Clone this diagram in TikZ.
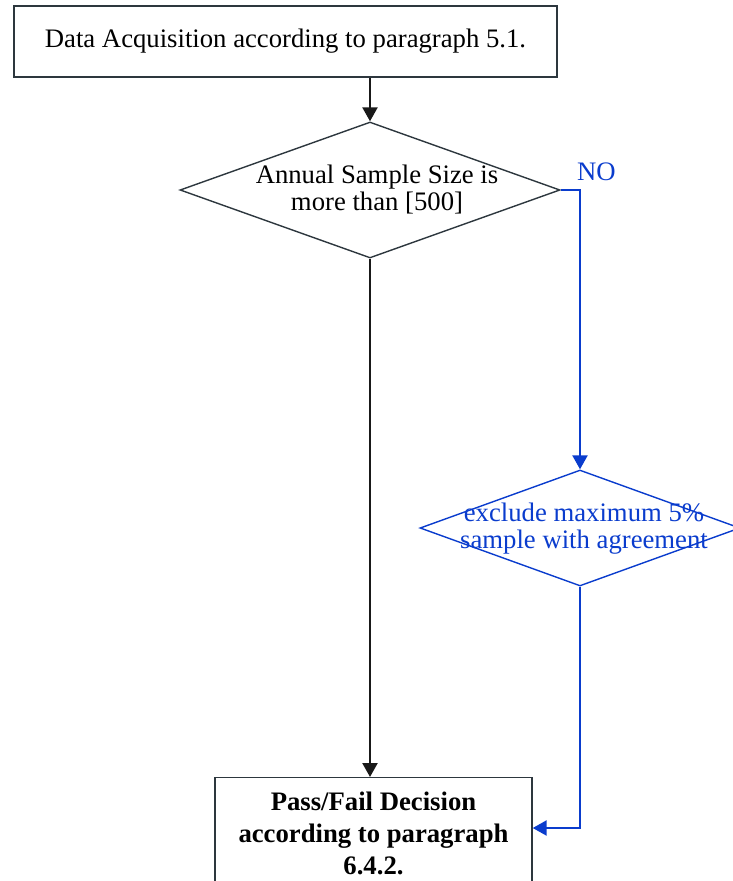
\documentclass[tikz,border=0pt]{standalone}
\usepackage{fontspec}
\setmainfont{Liberation Serif}
\usetikzlibrary{shapes.geometric,arrows.meta,calc}
\definecolor{edge}{RGB}{45,55,62}
\definecolor{flowblue}{RGB}{10,60,205}
\definecolor{ink}{RGB}{25,25,25}
\begin{document}
\begin{tikzpicture}[x=1pt,y=-1pt,
  box/.style={draw=edge,line width=1.4pt,rectangle,inner sep=0pt},
  dia/.style={draw=edge,line width=1.4pt,diamond,inner sep=0pt},
  lbl/.style={font=\fontsize{26.7}{27}\selectfont,align=center,inner sep=0pt},
  arr/.style={draw=ink,line width=2.4pt,-{Triangle[length=14pt,width=15pt]}},
  barr/.style={draw=flowblue,line width=2.4pt,line join=miter,-{Triangle[length=14pt,width=15pt]}}]
\useasboundingbox (0,0) rectangle (733,881);
\clip (0,0) rectangle (733,881);
\node[box,minimum width=543pt,minimum height=71pt,lbl] (top) at (285.5,41.5) {Data Acquisition according to paragraph 5.1.};
\node[dia,minimum width=380pt,minimum height=136pt] (d1) at (370,190) {};
\node[lbl] (t1) at (377,190) {Annual Sample Size is\\more than [500]};
\node[dia,draw=flowblue,minimum width=320pt,minimum height=116pt] (d2) at (580,528) {};
\node[lbl,text=flowblue] (t2) at (584,529) {exclude maximum 5\%\\sample with agreement};
\node[box,lbl,anchor=north,minimum width=317pt,minimum height=112pt,font=\bfseries\fontsize{26.7}{32}\selectfont] (bot) at (373.5,777) {Pass/Fail Decision\\according to paragraph\\6.4.2.};
\node[text=flowblue,font=\fontsize{26.7}{27}\selectfont,anchor=base west,inner sep=0pt] (no) at (577,180) {NO};
\draw[arr] (top.south -| d1.north) -- (d1.north);
\draw[arr] (d1.south) -- (d1.south |- bot.north);
\draw[barr] (d1.east) -| (d2.north);
\draw[barr] (d2.south) |- ($(bot.north east)+(0,51)$);
\end{tikzpicture}
\end{document}
